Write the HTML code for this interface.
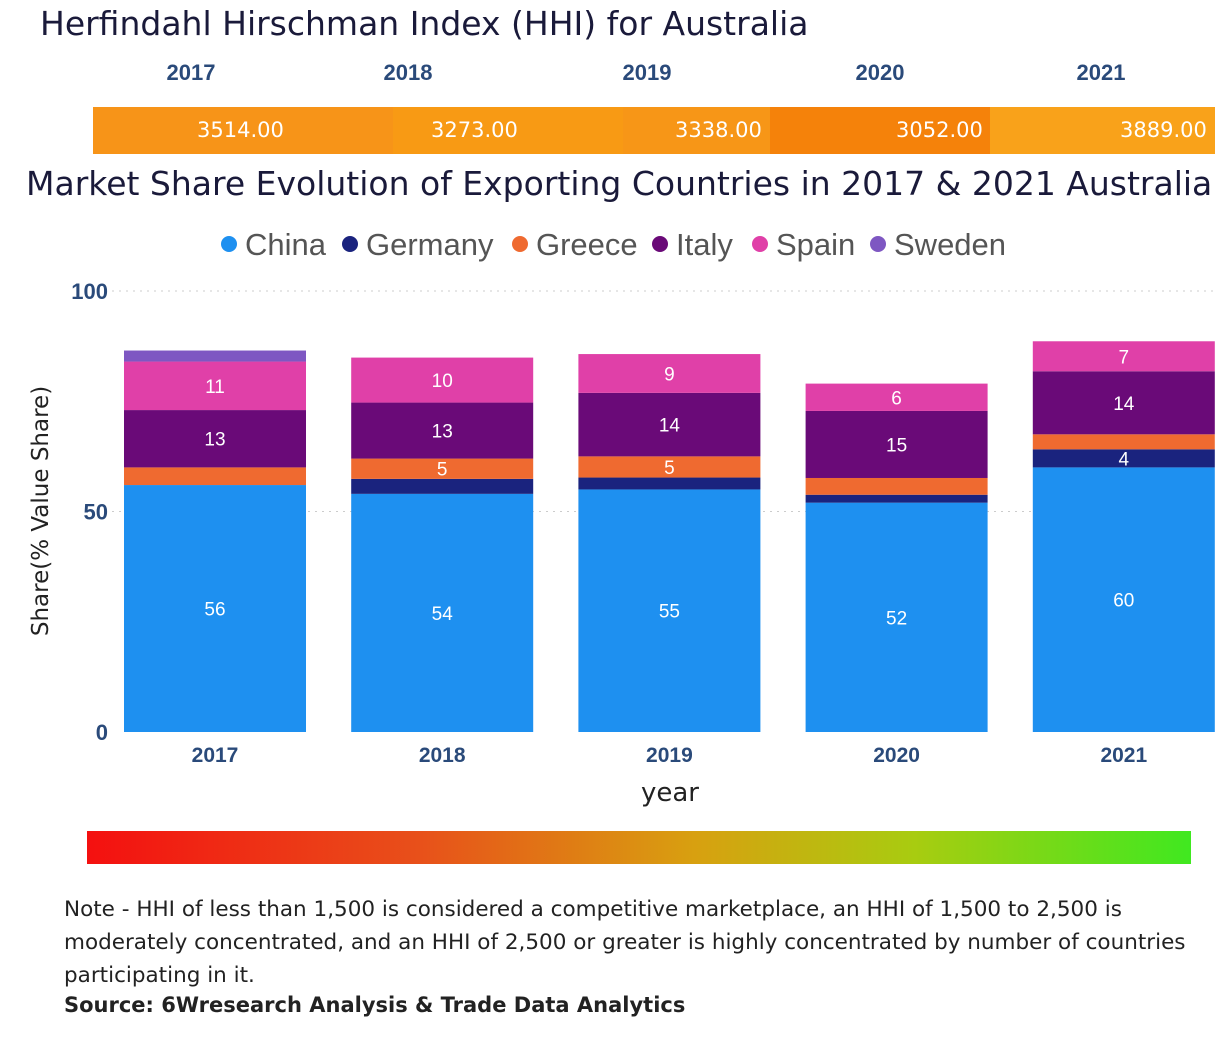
<!DOCTYPE html>
<html><head><meta charset="utf-8">
<style>
body{margin:0;width:1222px;height:1038px;background:#fff;font-family:"Liberation Sans",sans-serif;overflow:hidden;position:relative}
.abs{position:absolute}
.seg{position:absolute;top:0;height:47px;color:#fff;font-size:21px;line-height:47px;font-family:"DejaVu Sans",sans-serif}
.yr{position:absolute;top:0;font-weight:bold;font-size:22px;color:#2a4a7a;transform:translateX(-50%)}
</style></head><body>
<div class="abs" style="left:40px;top:4px;font-size:33px;color:#1a1a3a;font-family:'DejaVu Sans',sans-serif">Herfindahl Hirschman Index (HHI) for Australia</div>
<div class="abs" style="left:0;top:60px;width:1222px;height:30px">
<div class="yr" style="left:191px">2017</div>
<div class="yr" style="left:408px">2018</div>
<div class="yr" style="left:647px">2019</div>
<div class="yr" style="left:880px">2020</div>
<div class="yr" style="left:1101px">2021</div>
</div>
<div class="abs" style="left:93px;top:107px;width:1122px;height:47px">
<div class="seg" style="left:0;width:300px;background:#f79418"><span style="position:absolute;left:104px">3514.00</span></div>
<div class="seg" style="left:300px;width:230px;background:#f89a14"><span style="position:absolute;left:38px">3273.00</span></div>
<div class="seg" style="left:530px;width:147px;background:#f79617"><span style="position:absolute;left:52px">3338.00</span></div>
<div class="seg" style="left:677px;width:220px;background:#f5820a"><span style="position:absolute;left:126px">3052.00</span></div>
<div class="seg" style="left:897px;width:225px;background:#f9a21a"><span style="position:absolute;left:130px">3889.00</span></div>
</div>
<div class="abs" style="left:26px;top:164px;font-size:33px;color:#1a1a3a;font-family:'DejaVu Sans',sans-serif;white-space:nowrap">Market Share Evolution of Exporting Countries in 2017 &amp; 2021 Australia</div>
<svg class="abs" style="left:0;top:0" width="1222" height="1038" id="chart"></svg>
<div class="abs" style="left:87px;top:831px;width:1104px;height:33px;background:linear-gradient(to right,#f41010,#e8501a 30%,#d8a010 55%,#a8cc10 75%,#40e820)"></div>
<div class="abs" style="left:64px;top:893px;width:1145px;font-size:21.5px;line-height:33px;color:#222;font-family:'DejaVu Sans',sans-serif">Note - HHI of less than 1,500 is considered a competitive marketplace, an HHI of 1,500 to 2,500 is moderately concentrated, and an HHI of 2,500 or greater is highly concentrated by number of countries participating in it.</div>
<div class="abs" style="left:64px;top:993px;font-size:21px;font-weight:bold;color:#222;font-family:'DejaVu Sans',sans-serif">Source: 6Wresearch Analysis &amp; Trade Data Analytics</div>
<script>
const years=["2017","2018","2019","2020","2021"];
const series=["China","Germany","Greece","Italy","Spain","Sweden"];
const colors=["#1e90f0","#1a237e","#ef6a30","#6a0a78","#e040a8","#7e57c2"];
const china=[56,54,55,52,60];
const germany=[0,3.4,2.7,1.8,4.1];
const greece=[4,4.6,4.8,3.8,3.4];
const italy=[13,12.7,14.4,15.2,14.3];
const spain=[11,10.2,8.8,6.2,6.8];
const sweden=[2.5,0,0,0,0];
const yTicks=[0,50,100];
const data=[china,germany,greece,italy,spain,sweden];
const NS="http://www.w3.org/2000/svg";
const svg=document.getElementById('chart');
const y=v=>732-v*4.41;
const x=i=>124+i*227.2;
const bw=182;
function el(t,a){const e=document.createElementNS(NS,t);for(const k in a)e.setAttribute(k,a[k]);svg.appendChild(e);return e;}
yTicks.forEach(t=>{
 if(t>0){const g=el('line',{x1:112,x2:1215,y1:y(t),y2:y(t),stroke:'#ccc','stroke-dasharray':'2,5'});
 
 }
 const l=el('text',{x:108,y:y(t)+8,'text-anchor':'end','font-size':22,'font-weight':'bold',fill:'#2a4a7a'});l.textContent=t;
 
 
});
years.forEach((yr,i)=>{
 let acc=0;
 data.forEach((s,j)=>{
  const v=s[i];if(v<=0)return;
  const r=el('rect',{x:x(i),y:y(acc+v),width:bw,height:v*4.41,fill:colors[j]});
  
  
  if(v>=4&&!(j==2&&v<4.5)){const t=el('text',{x:x(i)+bw/2,y:y(acc+v/2)+7,'text-anchor':'middle','font-size':19,fill:'#fff'});t.textContent=Math.round(v);
   
   }
  acc+=v;
 });
 const t=el('text',{x:x(i)+bw/2,y:762,'text-anchor':'middle','font-size':21,'font-weight':'bold',fill:'#2a4a7a'});t.textContent=yr;
 
 
});
let t=el('text',{x:670,y:801,'text-anchor':'middle','font-size':26,fill:'#222','font-family':'DejaVu Sans'});t.textContent='year';


t=el('text',{x:48,y:511,'text-anchor':'middle','font-size':23,fill:'#222',transform:'rotate(-90 48 511)','font-family':'DejaVu Sans'});t.textContent='Share(% Value Share)';


const lx=[229,350,520,660,760,878];
series.forEach((s,j)=>{
 const c=el('circle',{cx:lx[j],cy:244,r:8,fill:colors[j]});
 
 
 const tt=el('text',{x:lx[j]+16,y:255,'font-size':31,fill:'#555'});tt.textContent=s;
 
 
});
</script>
</body></html>
